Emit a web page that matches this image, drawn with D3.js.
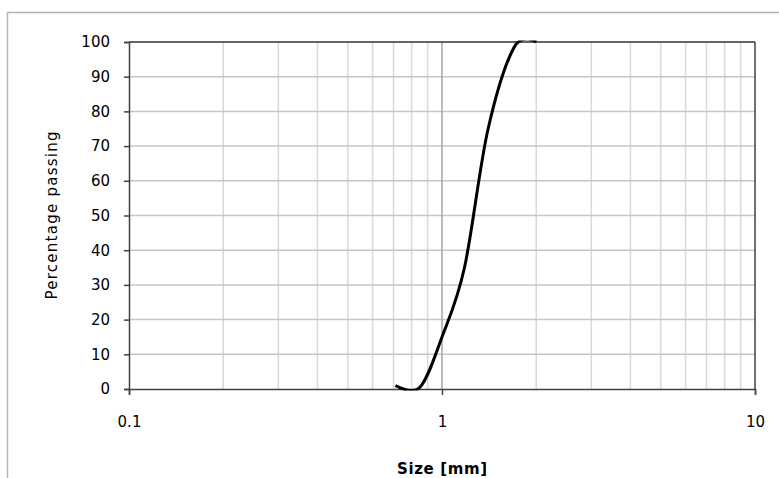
<!DOCTYPE html>
<html>
<head>
<meta charset="utf-8">
<script src="https://cdn.jsdelivr.net/npm/d3@7"></script>
<style>
  body { margin: 0; background: #fff; }
  text { font-family: "DejaVu Sans", Verdana, sans-serif; fill: #000; }
</style>
</head>
<body>
<div id="main"></div>
<script>
// sieve sizes in mm and percentage passing
let sizes = [0.71, 0.85, 1.0, 1.18, 1.4, 1.7, 2.0];
let passing = [1, 0.5, 15, 35, 74.5, 98.5, 100];

let xTicks = [0.1, 1, 10];
let xMinor = [0.2, 0.3, 0.4, 0.5, 0.6, 0.7, 0.8, 0.9, 2, 3, 4, 5, 6, 7, 8, 9];
let yTicks = [0, 10, 20, 30, 40, 50, 60, 70, 80, 90, 100];

let width = 779, height = 478;
let margin = { top: 42, right: 24, bottom: 89, left: 129 };

let svg = d3.select("#main").append("svg")
  .attr("width", width)
  .attr("height", height);

// chart frame
svg.append("rect")
  .attr("x", 7.5).attr("y", 12.5)
  .attr("width", width).attr("height", height)
  .attr("fill", "none")
  .attr("stroke", "#b4b4b4")
  .attr("stroke-width", 1.5);

let x = d3.scaleLog().domain([0.1, 10]).range([margin.left, width - margin.right]);
let y = d3.scaleLinear().domain([0, 100]).range([height - margin.bottom, margin.top]);

// keep the smoothed line inside the plot area (like the spreadsheet does)
svg.append("clipPath")
  .attr("id", "plotClip")
  .append("rect")
  .attr("x", x(0.1))
  .attr("y", y(100) - 1.5)
  .attr("width", x(10) - x(0.1))
  .attr("height", y(0) - y(100) + 3);

let plot = svg.append("g");

// minor vertical grid
plot.selectAll(".minor")
  .data(xMinor)
  .enter()
  .append("line")
  .attr("x1", d => x(d)).attr("x2", d => x(d))
  .attr("y1", y(0)).attr("y2", y(100))
  .attr("stroke", "#d9d9d9")
  .attr("stroke-width", 1.5);

// horizontal grid
plot.selectAll(".hgrid")
  .data(yTicks.slice(1))
  .enter()
  .append("line")
  .attr("x1", x(0.1)).attr("x2", x(10))
  .attr("y1", d => y(d)).attr("y2", d => y(d))
  .attr("stroke", "#c6c6c6")
  .attr("stroke-width", 1.5);

// major vertical grid
plot.append("line")
  .attr("x1", x(1)).attr("x2", x(1))
  .attr("y1", y(0)).attr("y2", y(100))
  .attr("stroke", "#a6a6a6")
  .attr("stroke-width", 1.5);

// right border of plot area
plot.append("line")
  .attr("x1", x(10)).attr("x2", x(10))
  .attr("y1", y(0)).attr("y2", y(100))
  .attr("stroke", "#404040")
  .attr("stroke-width", 1.5);

// y axis
let yAxis = svg.append("g")
  .attr("transform", "translate(" + margin.left + ",0)")
  .call(d3.axisLeft(y).tickValues(yTicks).tickSize(5).tickPadding(14).tickFormat(d3.format("d")));

// x axis
let xAxis = svg.append("g")
  .attr("transform", "translate(0," + y(0) + ")")
  .call(d3.axisBottom(x).tickValues(xTicks).tickSize(6).tickPadding(21).tickFormat(d => String(d)));

[yAxis, xAxis].forEach(a => {
  a.select(".domain").attr("stroke", "#404040").attr("stroke-width", 1.5);
  a.selectAll(".tick line").attr("stroke", "#404040").attr("stroke-width", 1.5);
  a.selectAll("text").attr("font-size", 15).attr("font-family", "DejaVu Sans").attr("fill", "#000");
});

// top border of plot area
plot.append("line")
  .attr("x1", x(0.1)).attr("x2", x(10))
  .attr("y1", y(100)).attr("y2", y(100))
  .attr("stroke", "#404040")
  .attr("stroke-width", 1.5);

// grading curve, smoothed like a spreadsheet line
let line = d3.line()
  .x((d, i) => x(sizes[i]))
  .y(d => y(d))
  .curve(d3.curveCardinal.tension(0));

svg.append("path")
  .datum(passing)
  .attr("d", line)
  .attr("clip-path", "url(#plotClip)")
  .attr("fill", "none")
  .attr("stroke", "#000")
  .attr("stroke-width", 3);

// axis titles
svg.append("text")
  .attr("x", x(1))
  .attr("y", 474)
  .attr("text-anchor", "middle")
  .attr("font-size", 15)
  .attr("font-weight", "bold")
  .attr("textLength", 90)
  .text("Size [mm]");

svg.append("text")
  .attr("transform", "translate(57," + (y(50)) + ") rotate(-90)")
  .attr("text-anchor", "middle")
  .attr("font-size", 15)
  .attr("textLength", 168)
  .text("Percentage passing");
</script>
</body>
</html>
